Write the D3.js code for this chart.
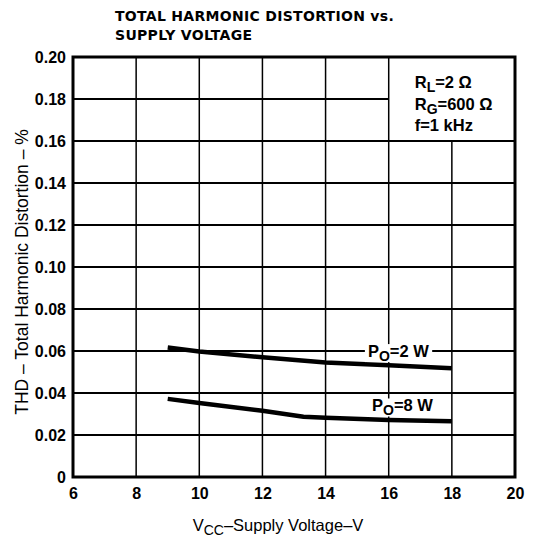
<!DOCTYPE html>
<html><head><meta charset="utf-8">
<script src="https://cdn.jsdelivr.net/npm/d3@7"></script>
<style>body{margin:0;background:#fff}svg{display:block}</style>
</head><body><div id="c"></div>
<script>
const xTicks = [6, 8, 10, 12, 14, 16, 18, 20];
const yTicks = [0, 0.02, 0.04, 0.06, 0.08, 0.10, 0.12, 0.14, 0.16, 0.18, 0.20];
const yTickLabels = ["0", "0.02", "0.04", "0.06", "0.08", "0.10", "0.12", "0.14", "0.16", "0.18", "0.20"];
const vcc2W = [9, 10, 12, 14, 16, 18];
const thd2W = [0.0617, 0.0598, 0.057, 0.0545, 0.0532, 0.0518];
const vcc8W = [9, 10, 12, 13.3, 14, 16, 18];
const thd8W = [0.0372, 0.0352, 0.0315, 0.0287, 0.0282, 0.0272, 0.0265];

const W = 533, H = 543;
const svg = d3.select("#c").append("svg").attr("width", W).attr("height", H);
const x = d3.scaleLinear().domain([6, 20]).range([73, 515]);
const y = d3.scaleLinear().domain([0, 0.20]).range([477, 57]);
const font = "'Liberation Sans', Arial, sans-serif";

// gridlines
const g = svg.append("g");
yTicks.forEach(v => {
  if (v === 0 || v === 0.20) return;
  const x2 = (v === 0.18) ? x(16) : x(20);
  g.append("line").attr("x1", x(6)).attr("x2", x2).attr("y1", y(v)).attr("y2", y(v))
    .attr("stroke", "#000").attr("stroke-width", 2);
});
xTicks.forEach(v => {
  if (v === 6 || v === 20) return;
  const y2 = (v === 18) ? y(0.16) : y(0.20);
  g.append("line").attr("x1", x(v)).attr("x2", x(v)).attr("y1", y(0)).attr("y2", y2)
    .attr("stroke", "#000").attr("stroke-width", 1.5);
});
// frame
g.append("rect").attr("x", x(6)).attr("y", y(0.20)).attr("width", x(20) - x(6)).attr("height", y(0) - y(0.20))
  .attr("fill", "none").attr("stroke", "#000").attr("stroke-width", 3);

// axes labels via d3 axes (no domain/ticks lines)
const xAxis = svg.append("g").attr("transform", `translate(0,${y(0) + 5})`)
  .call(d3.axisBottom(x).tickValues(xTicks).tickSize(0).tickFormat(d3.format("d")));
xAxis.select(".domain").remove();
xAxis.selectAll("text").attr("font-family", font).attr("font-weight", "bold").attr("font-size", 16).attr("fill", "#000").attr("dy", "0.85em");
const yAxis = svg.append("g").attr("transform", `translate(${x(6) - 4},0)`)
  .call(d3.axisLeft(y).tickValues(yTicks).tickSize(0).tickFormat((d, i) => yTickLabels[i]));
yAxis.select(".domain").remove();
yAxis.selectAll("text").attr("font-family", font).attr("font-weight", "bold").attr("font-size", 16).attr("fill", "#000");

// curves
const line = d3.line().x(d => x(d[0])).y(d => y(d[1]));
svg.append("path").datum(vcc2W.map((v, i) => [v, thd2W[i]])).attr("d", line)
  .attr("fill", "none").attr("stroke", "#000").attr("stroke-width", 4.5);
svg.append("path").datum(vcc8W.map((v, i) => [v, thd8W[i]])).attr("d", line)
  .attr("fill", "none").attr("stroke", "#000").attr("stroke-width", 4.5);

// curve labels
const labels = svg.append("g");
function poLabel(xv, yv, txt) {
  const grp = labels.append("g");
  const bgRect = grp.append("rect").attr("fill", "#fff");
  const t = grp.append("text").attr("x", x(xv)).attr("y", y(yv)).attr("font-family", font)
    .attr("font-weight", "bold").attr("font-size", 16.5).attr("fill", "#000");
  t.append("tspan").text("P");
  t.append("tspan").attr("dy", 4).attr("font-size", 14).text("O");
  t.append("tspan").attr("dy", -4).text("=" + txt);
  const b = t.node().getBBox();
  bgRect.attr("x", b.x - 3).attr("y", b.y + 2).attr("width", b.width + 6).attr("height", b.height - 4);
}
poLabel(15.34, 0.0571, "2 W");
poLabel(15.47, 0.0312, "8 W");

// annotation box
const ax = x(16) + 26;
function sub(yy, main, s, rest) {
  const t = svg.append("text").attr("x", ax).attr("y", yy).attr("font-family", font)
    .attr("font-weight", "bold").attr("font-size", 16.5).attr("fill", "#000");
  t.append("tspan").text(main);
  if (s) {
    t.append("tspan").attr("dy", 4).attr("font-size", 14).text(s);
    t.append("tspan").attr("dy", -4).text(rest);
  }
}
sub(88, "R", "L", "=2 Ω");
sub(110, "R", "G", "=600 Ω");
sub(131, "f=1 kHz");

// title
svg.append("text").attr("x", 115).attr("y", 21).attr("font-family", "'DejaVu Sans', sans-serif").attr("font-weight", "bold")
  .attr("font-size", 14).attr("letter-spacing", 0.3).attr("fill", "#000").text("TOTAL HARMONIC DISTORTION vs.");
svg.append("text").attr("x", 115).attr("y", 40).attr("font-family", "'DejaVu Sans', sans-serif").attr("font-weight", "bold")
  .attr("font-size", 14).attr("letter-spacing", 0.3).attr("fill", "#000").text("SUPPLY VOLTAGE");

// axis titles
const xt = svg.append("text").attr("x", 278).attr("y", 531).attr("text-anchor", "middle").attr("font-family", font)
  .attr("font-size", 16.5).attr("fill", "#000");
xt.append("tspan").text("V");
xt.append("tspan").attr("dy", 4).attr("font-size", 14).text("CC");
xt.append("tspan").attr("dy", -4).text("–Supply Voltage–V");

svg.append("text").attr("transform", `translate(28,272) rotate(-90)`).attr("text-anchor", "middle")
  .attr("font-family", font).attr("font-size", 17.5).attr("fill", "#000").text("THD – Total Harmonic Distortion – %");
</script></body></html>
